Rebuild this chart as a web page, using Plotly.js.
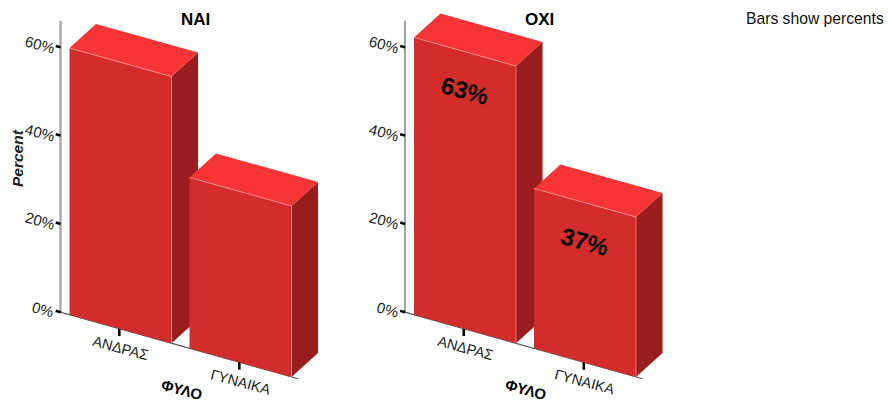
<!DOCTYPE html>
<html><head><meta charset="utf-8">
<script src="https://cdn.plot.ly/plotly-3.0.1.min.js"></script>
<style>html,body{margin:0;padding:0;background:#fff}#c{width:888px;height:402px}</style>
</head><body><div id="c"></div>
<script>
const categories = ['ΑΝΔΡΑΣ','ΓΥΝΑΙΚΑ'];
const naiValues = [60.4, 38.7];
const oxiValues = [62.8, 36.2];
const oxiLabels = ['63%','37%'];
const valueTicks = [0,20,40,60];
const valueTickLabels = ['0%','20%','40%','60%'];
const panelTitles = ['NAI','OXI'];
const xTitle = 'ΦΥΛΟ';
const yTitle = 'Percent';
const note = 'Bars show percents';

// oblique projection: (category, value, depth) -> axis units
const PXC = 120, PXV = 4.415, HALF = 51/PXC;
const SKEW = 0.28*PXC/PXV, DX = 26.5/PXC, DY = 24/PXV;
const P = (c,v,d=0)=>[c+d*DX, v-SKEW*c+d*DY];

const W=888,H=402, X0=120.5, Y0=329;
const yrange=[-(H-Y0)/PXV, Y0/PXV];
const FRONT='#d22c2b', TOP='#f53435', SIDE='#9a1e1d', EDGE='rgba(255,190,185,0.75)';
const traces=[], ann=[];

function poly(pts,color,ax){
  traces.push({type:'scatter',mode:'lines',x:pts.map(p=>p[0]),y:pts.map(p=>p[1]),xaxis:ax[0],yaxis:ax[1],
    fill:'toself',fillcolor:color,line:{width:0},hoverinfo:'skip',showlegend:false});
}
function line(pts,color,w,ax){
  traces.push({type:'scatter',mode:'lines',x:pts.map(p=>p[0]),y:pts.map(p=>p[1]),xaxis:ax[0],yaxis:ax[1],
    line:{color:color,width:w},hoverinfo:'skip',showlegend:false});
}
function text(t,p,ax,o){
  ann.push(Object.assign({text:t,x:p[0],y:p[1],xref:ax[0],yref:ax[1],showarrow:false,xanchor:'center',yanchor:'middle',
    font:{family:'Liberation Sans',size:14.5,color:'#222'}},o||{}));
}
function panel(idx,values,labels,axisColor,axisW){
  const ax= idx===0?['x','y']:['x2','y2'];
  const AX=-0.50;
  line([P(AX,0),P(AX,66)],axisColor,axisW,ax);
  line([P(AX-0.01,0),P(1.48,0)],'#555',1.2,ax);
  valueTicks.forEach((v,i)=>{
    line([P(AX-0.04,v),P(AX,v)],'#000',2.6,ax);
    text(valueTickLabels[i],[P(AX-0.015,v)[0],P(AX-0.05,v+0.3)[1]],ax,{xanchor:'right',textangle:15,font:{family:'Liberation Sans',size:15,color:'#222'}});
  });
  categories.forEach((cat,c)=>{
    line([P(c-0.01,0),[c-0.01,P(c,-1.6)[1]]],'#000',2.6,ax);
    text(cat,P(c,-4.3),ax,{textangle:15});
  });
  values.forEach((v,c)=>{
    const l=c-HALF,r=c+HALF;
    poly([P(r,0),P(r,0,1),P(r,v,1),P(r,v)],SIDE,ax);
    poly([P(l,v),P(r,v),P(r,v,1),P(l,v,1)],TOP,ax);
    poly([P(l,0),P(r,0),P(r,v),P(l,v)],FRONT,ax);
    line([P(l,v),P(r,v)],EDGE,0.7,ax);
    line([P(r,0),P(r,v)],EDGE,0.7,ax);
    if(labels){
      text('<b>'+labels[c]+'</b>',P(c,v-8.7),ax,{textangle:15,font:{family:'Liberation Sans',size:24,color:'#000'}});
    }
  });
  ann.push({text:'<b>'+panelTitles[idx]+'</b>',x:(195-X0)/PXC,y:(Y0-19)/PXV,xref:ax[0],yref:ax[1],showarrow:false,
    xanchor:'center',yanchor:'middle',font:{family:'Liberation Sans',size:17,color:'#000'}});
  text('<b>'+xTitle+'</b>',[(181.5-X0)/PXC,(Y0-389)/PXV],ax,{textangle:15,font:{family:'Liberation Sans',size:15,color:'#000'}});
}
panel(0,naiValues,null,'#a8a8a8',2.4);
panel(1,oxiValues,oxiLabels,'#555',1.1);
const axes=(d)=>({visible:false,domain:d,range:[(-X0)/PXC,(344-X0)/PXC],fixedrange:true});
const yaxis=(an)=>({visible:false,domain:[0,1],range:yrange,anchor:an,fixedrange:true});
ann.push({text:'<b><i>'+yTitle+'</i></b>',xref:'paper',yref:'paper',x:17/W,y:1-158/H,showarrow:false,textangle:-90,
  xanchor:'center',yanchor:'middle',font:{family:'Liberation Sans',size:15.5,color:'#222'}});
ann.push({text:note,xref:'paper',yref:'paper',x:744/W,y:1-19/H,xanchor:'left',yanchor:'middle',showarrow:false,
  font:{family:'Liberation Sans',size:15.7,color:'#111'}});
Plotly.newPlot('c',traces,{
  width:W,height:H,margin:{l:0,r:0,t:0,b:0},paper_bgcolor:'#fff',plot_bgcolor:'rgba(0,0,0,0)',showlegend:false,
  xaxis:axes([0,344/W]),yaxis:yaxis('x'),
  xaxis2:axes([344.5/W,688.5/W]),yaxis2:yaxis('x2'),
  annotations:ann
},{staticPlot:true,displayModeBar:false});
</script></body></html>
